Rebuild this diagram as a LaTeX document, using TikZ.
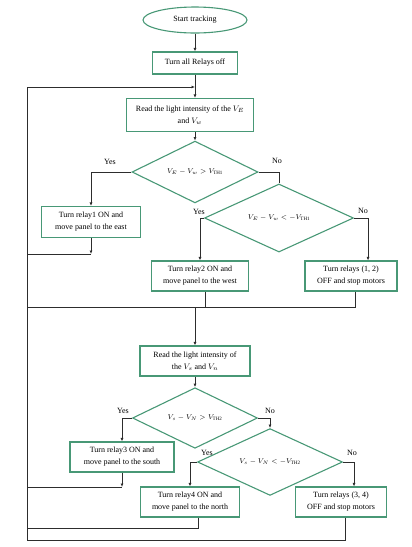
\documentclass[tikz,border=0pt]{standalone}
\usepackage{fontspec}
\setmainfont{Liberation Serif}
\usepackage{amsmath}
\usepackage{tikz}
\usetikzlibrary{positioning,shapes.geometric,arrows.meta}
\definecolor{boxgreen}{RGB}{72,152,118}
\definecolor{linegray}{RGB}{45,45,45}

\begin{document}
\begin{tikzpicture}[y=-1pt,x=1pt,
	font=\fontsize{8}{12}\selectfont,
	box/.style={draw=boxgreen, line width=1.1pt, rectangle, align=center, inner sep=1pt},
	decision/.style={draw=boxgreen, line width=1.1pt, diamond, inner sep=0pt, font=\fontsize{7}{8}\selectfont},
	flow/.style={draw=linegray, line width=0.9pt},
	arr/.style={flow, -{Latex[length=3.5pt,width=3pt]}},
	lbl/.style={inner sep=0pt}]
	\useasboundingbox (0,0) rectangle (412,547);

	% start and the first sensor pair
	\node[draw=boxgreen, line width=1.1pt, ellipse, minimum width=104pt, minimum height=26pt] (start) at (195,20) {Start tracking};
	\node[box, minimum width=85pt, minimum height=22pt] (off) at (195,63) {Turn all Relays off};
	\node[box, minimum width=127pt, minimum height=33pt] (readEW) at (190,115) {Read the light intensity of the $V_E$\\ and $V_w$};
	\node[decision, minimum width=126pt, minimum height=44pt] (decEW) at (195,172) {$V_E - V_w > V_{\mathrm{TH1}}$};
	\node[box, minimum width=99pt, minimum height=31pt] (relayOne) at (91,222) {Turn relay1 ON and\\ move panel to the east};
	\node[decision, minimum width=149pt, minimum height=49pt] (decWE) at (279,218) {$V_E - V_w < -V_{\mathrm{TH1}}$};
	\node[box, minimum width=97pt, minimum height=30pt] (relayTwo) at (200,276) {Turn relay2 ON and\\ move panel to the west};
	\node[box, minimum width=92pt, minimum height=30pt] (stopEW) at (351,276) {Turn relays (1, 2)\\ OFF and stop motors};

	% second sensor pair
	\node[box, minimum width=110pt, minimum height=30pt] (readSN) at (195,361) {Read the light intensity of\\ the $V_s$ and $V_n$};
	\node[decision, minimum width=125pt, minimum height=47pt] (decSN) at (195,418) {$V_s - V_N > V_{\mathrm{TH2}}$};
	\node[box, minimum width=104pt, minimum height=30pt] (relayThree) at (122,457) {Turn relay3 ON and\\ move panel to the south};
	\node[decision, minimum width=145pt, minimum height=47pt] (decNS) at (270,462) {$V_s - V_N < -V_{\mathrm{TH2}}$};
	\node[box, minimum width=99pt, minimum height=30pt] (relayFour) at (190,502) {Turn relay4 ON and\\ move panel to the north};
	\node[box, minimum width=91pt, minimum height=30pt] (stopSN) at (341,502) {Turn relays (3, 4)\\ OFF and stop motors};

	% yes / no labels
	\node[lbl] (yesEW) at (110,162) {Yes};
	\node[lbl] (noEW) at (277,161) {No};
	\node[lbl] (yesWE) at (199,212) {Yes};
	\node[lbl] (noWE) at (363,211) {No};
	\node[lbl] (yesSN) at (123,411) {Yes};
	\node[lbl] (noSN) at (270,411) {No};
	\node[lbl] (yesNS) at (207,453) {Yes};
	\node[lbl] (noNS) at (352,453) {No};

	% loop corners
	\coordinate (loopTop) at (27,87);
	\coordinate (loopBot) at (27,540);
	\coordinate (joinOne) at (27,254);
	\coordinate (joinTwo) at (27,307);
	\coordinate (joinThree) at (27,487);
	\coordinate (joinFour) at (27,528);

	\draw[arr] (start) -- (off);
	\draw[arr] (off.south) -- (off.south |- readEW.north);
	\draw[arr] (loopBot) -- (loopTop) -- (off.south |- loopTop);
	\draw[arr] (off.south |- readEW.south) -- (decEW.north);
	\draw[arr] (decEW.west) -| (relayOne.north);
	\draw[flow] (decEW.east) -| (decWE.north);
	\draw[arr] (decWE.west) -| (relayTwo.north);
	\draw[arr] (decWE.east) -- ++(14,0) coordinate (turnWE) -- (turnWE |- stopEW.north);

	\draw[arr] (relayOne.south) -- (relayOne.south |- joinOne);
	\draw[flow] (joinOne) -- (relayOne.south |- joinOne);
	\draw[flow] ([xshift=5pt]relayTwo.south) |- (joinTwo);
	\draw[arr] ([xshift=4pt]stopEW.south) -- ++(0,16) -| (readSN.north);

	\draw[arr] (readSN) -- (decSN);
	\draw[arr] (decSN.west) -| (relayThree.north);
	\draw[arr] (decSN.east) -| (decNS.north);
	\draw[arr] (decNS.west) -| (relayFour.north);
	\draw[arr] (decNS.east) -- ++(11,0) coordinate (turnNS) -- (turnNS |- stopSN.north);

	\draw[arr] (relayThree.south) -- (relayThree.south |- joinThree);
	\draw[flow] (joinThree) -- (relayThree.south |- joinThree);
	\draw[flow] ([xshift=8pt]relayFour.south) |- (joinFour);
	\draw[flow] ([xshift=4pt]stopSN.south) |- (loopBot);
\end{tikzpicture}
\end{document}
